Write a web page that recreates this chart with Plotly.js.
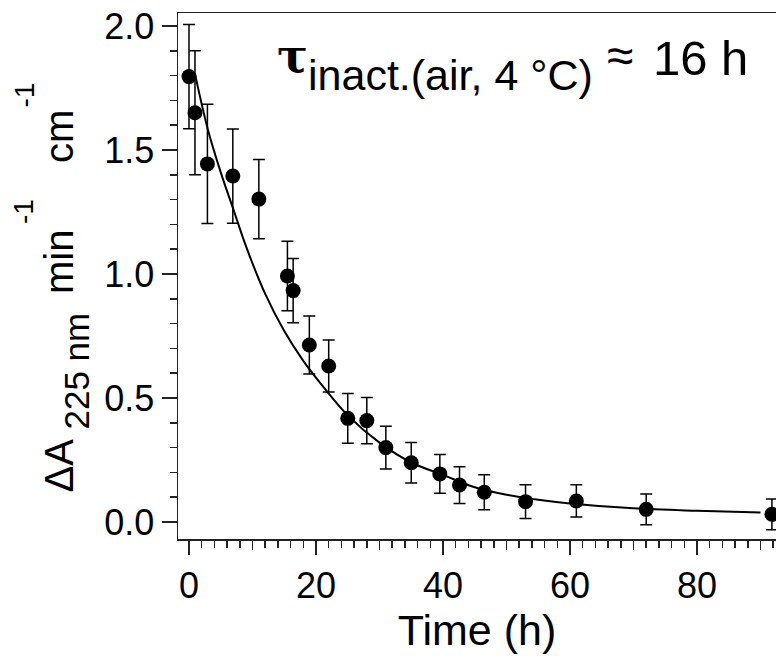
<!DOCTYPE html>
<html>
<head>
<meta charset="utf-8">
<script src="https://cdn.plot.ly/plotly-3.0.1.min.js"></script>
<style>
html, body { margin: 0; padding: 0; background: #fff; }
#chart { width: 776px; height: 658px; }
</style>
</head>
<body>
<div id="chart"></div>
<script>
var time = [0, 0.94, 2.9, 6.9, 11.0, 15.5, 16.4, 18.95, 22.0, 25.0, 28.0, 31.0, 35.0, 39.5, 42.6, 46.5, 53.0, 61.0, 72.0, 91.8];
var activity = [1.796, 1.650, 1.444, 1.395, 1.302, 0.992, 0.933, 0.714, 0.629, 0.418, 0.409, 0.300, 0.239, 0.194, 0.149, 0.120, 0.082, 0.085, 0.051, 0.031];
var errorBar = [0.21, 0.25, 0.24, 0.19, 0.16, 0.14, 0.13, 0.117, 0.105, 0.10, 0.093, 0.086, 0.082, 0.078, 0.074, 0.071, 0.068, 0.065, 0.062, 0.062];

// Fitted curve
var fitTime = [1, 3, 5, 7, 9, 12, 15, 18, 21, 25, 30, 35, 40, 45, 50, 55, 60, 70, 80, 90];
var fitValue = [1.80, 1.58, 1.41, 1.26, 1.11, 0.92, 0.77, 0.65, 0.55, 0.43, 0.32, 0.24, 0.19, 0.14, 0.11, 0.09, 0.075, 0.055, 0.045, 0.038];

// Medium x ticks
var midTicks = [10, 30, 50, 70, 90];

var FONT = 'Liberation Sans, Arial, Helvetica, sans-serif';
var L = 178, R = 0, T = 13, B = 119, W = 776, H = 658;
var pw = W - L - R, ph = H - T - B;
function px(xp) { return (xp - L) / pw; }
function py(yp) { return (H - B - yp) / ph; }

var xRange = [-1.732, 92.44];
var yRange = [-0.0685, 2.0524];

var traces = [
  {
    x: fitTime, y: fitValue, type: 'scatter', mode: 'lines',
    line: { color: '#000', width: 2, shape: 'spline', smoothing: 1 },
    xaxis: 'x2', yaxis: 'y', hoverinfo: 'skip', showlegend: false
  },
  {
    x: time, y: activity, type: 'scatter', mode: 'markers',
    marker: { color: '#000', size: 15 },
    error_y: { type: 'data', array: errorBar, visible: true, color: '#000', thickness: 1.5, width: 6 },
    cliponaxis: false, showlegend: false
  }
];

function ann(text, xp, yp, size, angle, family, weight) {
  return {
    text: text, xref: 'paper', yref: 'paper', x: px(xp), y: py(yp),
    xanchor: 'center', yanchor: 'middle', showarrow: false,
    textangle: angle || 0,
    font: { family: family || FONT, size: size, color: '#000', weight: weight || 'normal' }
  };
}

var annotations = [
  // y-axis title pieces (rotated), positioned by their centres
  ann('ΔA', 58.5, 466, 40, -90),
  ann('225 nm', 76.5, 371, 35, -90),
  ann('min', 58.5, 262.5, 40, -90),
  ann('-1', 23.5, 211.5, 28, -90),
  ann('cm', 58.5, 136.5, 40, -90),
  ann('-1', 23.5, 95, 28, -90),
  // tau annotation
  ann('τ', 292, 56, 46, 0, 'DejaVu Serif, serif', 'bold'),
  ann('inact.(air, 4 °C)', 450, 75, 43),
  ann('≈', 620, 56, 48),
  ann('16 h', 700, 58, 49)
];

var layout = {
  width: W, height: H,
  margin: { l: L, r: R, t: T, b: B, pad: 0 },
  paper_bgcolor: '#fff', plot_bgcolor: '#fff',
  showlegend: false,
  xaxis: {
    range: xRange, showgrid: false, zeroline: false,
    showline: true, linecolor: '#222', linewidth: 1.5, mirror: true,
    ticks: 'outside', ticklen: 14, tickwidth: 1.5, tickcolor: '#222',
    tick0: 0, dtick: 20,
    minor: { ticks: 'outside', ticklen: 7, tickwidth: 1.5, tickcolor: '#222', dtick: 2, tick0: 0, showgrid: false },
    tickfont: { family: FONT, size: 36, color: '#000' },
    title: { text: 'Time (h)', font: { family: FONT, size: 43, color: '#000' }, standoff: 6 }
  },
  xaxis2: {
    range: xRange, overlaying: 'x', side: 'bottom', showgrid: false, zeroline: false,
    showline: false, tickvals: midTicks, ticks: 'outside', ticklen: 10, tickwidth: 1.5, tickcolor: '#222',
    showticklabels: false
  },
  yaxis: {
    range: yRange, showgrid: false, zeroline: false,
    showline: true, linecolor: '#222', linewidth: 1.5,
    ticks: 'outside', ticklen: 15, tickwidth: 1.5, tickcolor: '#222',
    tick0: 0, dtick: 0.5, tickformat: '.1f',
    minor: { ticks: 'outside', ticklen: 7, tickwidth: 1.5, tickcolor: '#222', dtick: 0.1, tick0: 0, showgrid: false },
    tickfont: { family: FONT, size: 36, color: '#000' }
  },
  annotations: annotations
};

Plotly.newPlot('chart', traces, layout, { staticPlot: true, displayModeBar: false });
</script>
</body>
</html>
